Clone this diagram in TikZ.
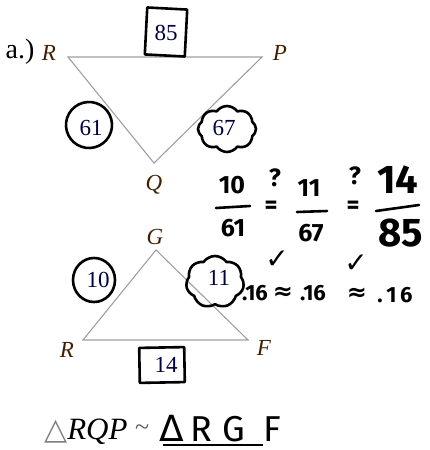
\documentclass[tikz,border=0pt]{standalone}
\usepackage{fontspec}
\setmainfont{Liberation Serif}
\newfontfamily\hand{Fira Sans}
\newfontfamily\sym{DejaVu Sans}
\usetikzlibrary{shapes.symbols,shapes.geometric}
\begin{document}
\begin{tikzpicture}[x=1pt,y=-1pt,
 edge/.style={draw=gray!75, line width=1.1pt},
 lbl/.style={font=\fontsize{23}{23}\selectfont\itshape, inner sep=0, text=black!75!orange},
 num/.style={font=\fontsize{23}{23}\selectfont, inner sep=0, text=black!75!blue},
 ink/.style={line width=2.6pt, black, line join=round, line cap=round},
 hw/.style={font=\hand\bfseries\fontsize{25}{25}\selectfont, inner sep=0},
 hwdec/.style={font=\hand\bfseries\fontsize{22}{22}\selectfont, inner sep=0},
 hwbig/.style={font=\hand\bfseries\fontsize{40}{40}\selectfont, inner sep=0},
 sm/.style={font=\sym\bfseries\fontsize{24}{24}\selectfont, inner sep=0},
 ck/.style={font=\sym\bfseries\fontsize{28}{28}\selectfont, inner sep=0},
 hcap/.style={font=\hand\fontsize{36}{36}\selectfont, inner sep=0, anchor=base},
]
\useasboundingbox (0,0) rectangle (430,450);
% ---- triangle RQP
\coordinate (R1) at (68,57);
\coordinate (P1) at (262,57);
\coordinate (Q1) at (154,163);
\draw[edge] (R1) -- (P1) -- (Q1) -- cycle;
\node[font=\fontsize{28}{28}\selectfont, inner sep=0] (a) at (20,52) {a.)};
\node[lbl] (lR1) at (49,53) {R};
\node[lbl] (lP1) at (280,53) {P};
\node[lbl] (lQ1) at (154,185) {Q};
\node[draw, ink, minimum width=40, minimum height=47, rotate=-3] (b85) at (166,32) {};
\node[num] (n85) at (166,33) {85};
\node[draw, ink, ellipse, minimum width=46, minimum height=46, rotate=15] (c61) at (89,125) {};
\node[num] (n61) at (91,128) {61};
\node[draw, ink, cloud, cloud puffs=8, cloud puff arc=110, minimum width=58, minimum height=46] (k67) at (227,129) {};
\node[num] (n67) at (224,128) {67};
% ---- triangle RGF
\coordinate (G2) at (156,250);
\coordinate (R2) at (83,340);
\coordinate (F2) at (248,340);
\draw[edge] (R2) -- (G2) -- (F2) -- cycle;
\node[lbl] (lG2) at (155,237) {G};
\node[lbl] (lR2) at (67,350) {R};
\node[lbl] (lF2) at (264,348) {F};
\node[draw, ink, ellipse, minimum width=42, minimum height=44] (c10) at (94,280) {};
\node[num] (n10) at (98,280) {10};
\node[draw, ink, cloud, cloud puffs=7, cloud puff arc=110, minimum width=58, minimum height=52] (k11) at (215,282) {};
\node[num] (n11) at (219,278) {11};
\node[draw, ink, minimum width=45, minimum height=35, rotate=1] (b14) at (162,365) {};
\node[num] (n14) at (166,365) {14};
% ---- ratios
\node[hw] (f1n) at (232,185) {10};
\draw[ink] (216,208) -- (250,206);
\node[hw] (f1d) at (233,228) {61};
\node[hw] (q1) at (275,178) {?};
\node[hw] (e1) at (271,207) {=};
\node[hw] (f2n) at (309,188) {11};
\draw[ink] (297,212) -- (327,211);
\node[hw] (f2d) at (311,233) {67};
\node[hw] (q2) at (355,176) {?};
\node[hw] (e2) at (353,207) {=};
\node[hwbig] (f3n) at (398,180) {14};
\draw[ink] (376,211) -- (419,205);
\node[hwbig] (f3d) at (401,233) {85};
% ---- decimals
\node[hwdec] (d1) at (255,293) {.16};
\node[sm] (ap1) at (283,293) {≈};
\node[hwdec] (d2) at (313,293) {.16};
\node[sm] (ap2) at (357,294) {≈};
\node[hwdec] (d3) at (395,295) {.\,1\,6};
\node[ck] (ck1) at (277,260) {✓};
\node[ck] (ck2) at (356,264) {✓};
% ---- similarity
\node[anchor=base west, inner sep=0, font=\fontsize{31}{31}\selectfont] (sim) at (44,439) {{\sym\color{gray}\fontsize{30}{30}\selectfont △}{\itshape RQP}};
\node[anchor=base west, inner sep=0, font=\fontsize{26}{26}\selectfont, text=gray!70!black] (tl) at (135,435) {\textasciitilde};
\node[hcap] (hD) at (172,441) {{\sym Δ}};
\node[hcap] (hR) at (201,441) {R};
\node[hcap] (hG) at (234,441) {G};
\node[hcap] (hF) at (272,441) {F};
\coordinate (u1) at (163,445);
\coordinate (u2) at (263,445);
\draw[line width=1.8pt] (u1) -- (u2);
\end{tikzpicture}
\end{document}
